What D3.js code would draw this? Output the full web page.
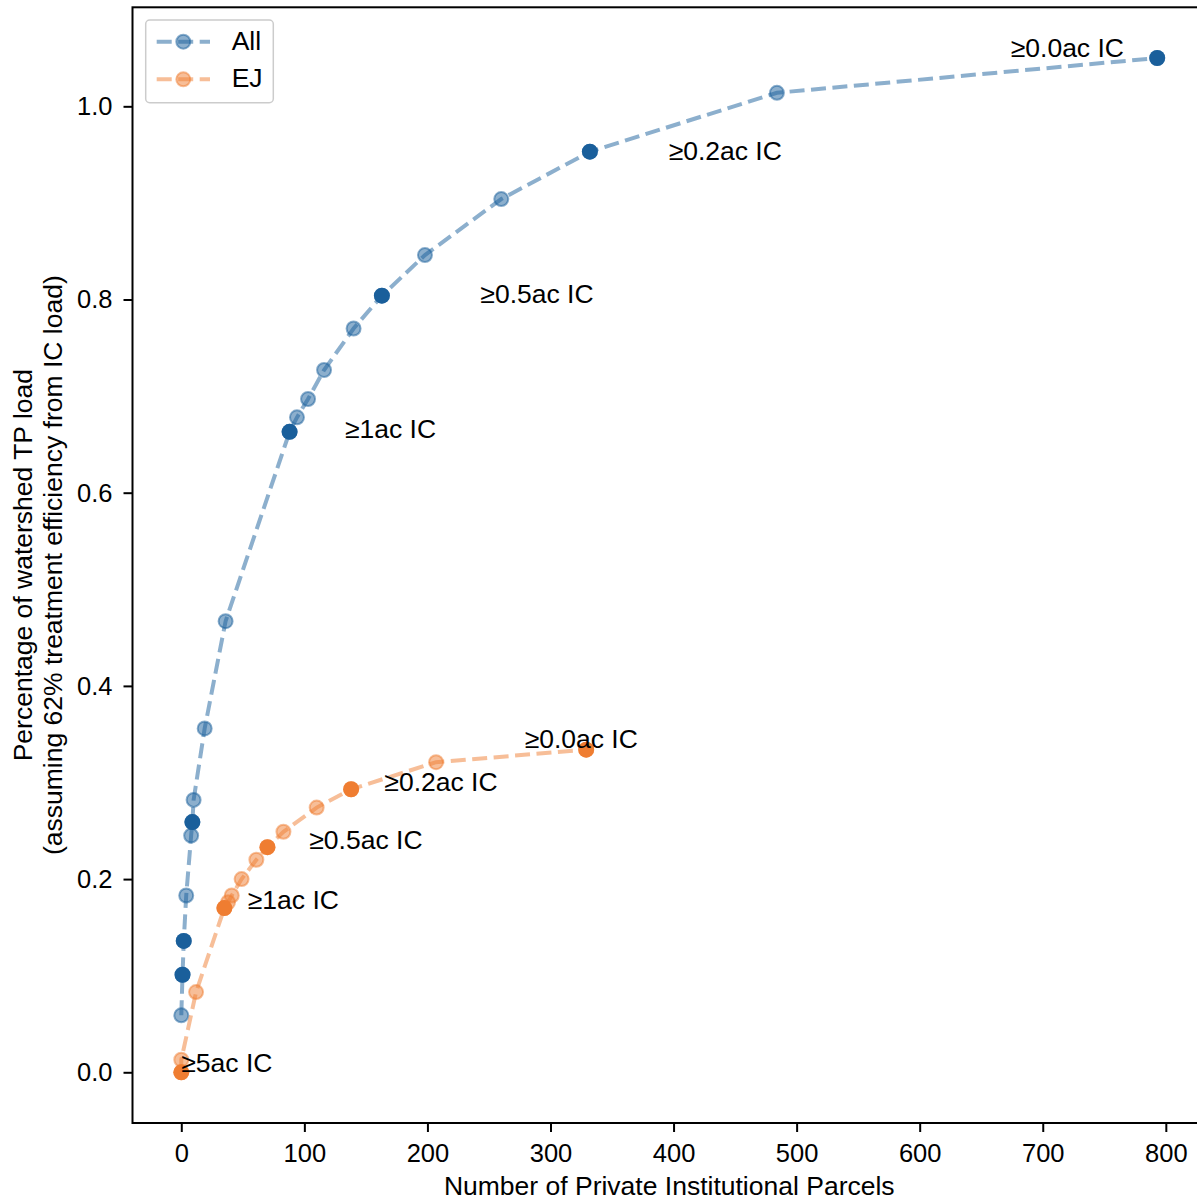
<!DOCTYPE html>
<html>
<head>
<meta charset="utf-8">
<script src="https://cdn.jsdelivr.net/npm/d3@7"></script>
<style>
  html, body { margin: 0; padding: 0; background: #fff; }
  svg text { font-family: "Liberation Sans", Arial, sans-serif; fill: #000; }
</style>
</head>
<body>
<svg id="chart" width="1197" height="1203"></svg>
<script>
// Cumulative share of watershed TP load treated vs. number of parcels (all parcels)
const allParcels = [0, 1, 2, 4, 8, 9, 10, 19, 36, 88, 94, 103, 116, 140, 163, 198, 260, 332, 484, 793];
const allLoad = [0.059, 0.101, 0.136, 0.183, 0.245, 0.259, 0.282, 0.356, 0.467, 0.663, 0.678, 0.697, 0.727, 0.770, 0.804, 0.846, 0.904, 0.953, 1.014, 1.050];
// 1 = parcel-size threshold point (drawn solid)
const allThreshold = [0, 1, 1, 0, 0, 1, 0, 0, 0, 1, 0, 0, 0, 0, 1, 0, 0, 1, 0, 1];

// Same curve restricted to EJ parcels
const ejParcels = [0, 0, 12, 35, 38, 41, 49, 61, 70, 83, 110, 138, 207, 329];
const ejLoad = [0.000, 0.013, 0.083, 0.170, 0.176, 0.183, 0.200, 0.220, 0.233, 0.249, 0.274, 0.293, 0.321, 0.334];
const ejThreshold = [1, 0, 0, 1, 0, 0, 0, 0, 1, 0, 0, 1, 0, 1];

// Threshold annotations, in data coordinates
const allLabelText = ["≥1ac IC", "≥0.5ac IC", "≥0.2ac IC", "≥0.0ac IC"];
const allLabelX = [133, 243, 396, 674];
const allLabelY = [0.657, 0.796, 0.944, 1.051];
const ejLabelText = ["≥5ac IC", "≥1ac IC", "≥0.5ac IC", "≥0.2ac IC", "≥0.0ac IC"];
const ejLabelX = [0, 54, 104, 165, 279];
const ejLabelY = [0, 0.169, 0.231, 0.291, 0.336];

const xTicks = [0, 100, 200, 300, 400, 500, 600, 700, 800];
const yTicks = [0.0, 0.2, 0.4, 0.6, 0.8, 1.0];

const seriesNames = ["All", "EJ"];
const seriesColors = ["#1a5f9b", "#ef7d31"];

const svg = d3.select("#chart");
const plot = { left: 132.5, right: 1206, top: 7.3, bottom: 1123 };
const fontSize = 26.5;
const tickFontSize = 25.5;

// matplotlib-style 5% padding around the data extent
const xMax = d3.max(allParcels.concat(ejParcels));
const yMax = d3.max(allLoad.concat(ejLoad));
const x = d3.scaleLinear().domain([-0.05 * xMax, xMax * 1.05]).range([plot.left, plot.right]);
const y = d3.scaleLinear().domain([-0.05 * yMax, yMax * 1.05]).range([plot.bottom, plot.top]);

svg.append("defs").append("clipPath").attr("id", "plotClip")
  .append("rect")
  .attr("x", plot.left).attr("y", plot.top)
  .attr("width", plot.right - plot.left).attr("height", plot.bottom - plot.top);

const series = [
  { name: seriesNames[0], xs: allParcels, ys: allLoad, key: allThreshold, color: seriesColors[0] },
  { name: seriesNames[1], xs: ejParcels, ys: ejLoad, key: ejThreshold, color: seriesColors[1] }
];

const body = svg.append("g").attr("clip-path", "url(#plotClip)");
const line = d3.line().x(d => x(d[0])).y(d => y(d[1]));

// Dashed semi-transparent curves with their markers
series.forEach(s => {
  const pts = s.xs.map((v, i) => [v, s.ys[i]]);
  const g = body.append("g");
  g.append("path")
    .attr("d", line(pts))
    .attr("fill", "none")
    .attr("stroke", s.color)
    .attr("stroke-opacity", 0.5)
    .attr("stroke-width", 4)
    .attr("stroke-dasharray", "15,6.5");
  g.selectAll("circle.m").data(pts).enter().append("circle")
    .attr("class", "m")
    .attr("cx", d => x(d[0])).attr("cy", d => y(d[1]))
    .attr("r", 7)
    .attr("fill", s.color).attr("fill-opacity", 0.5)
    .attr("stroke", s.color).attr("stroke-opacity", 0.5).attr("stroke-width", 2);
});

// Solid markers at the parcel-size thresholds
series.forEach(s => {
  const pts = s.xs.map((v, i) => [v, s.ys[i], s.key[i]]).filter(d => d[2] === 1);
  body.append("g").selectAll("circle").data(pts).enter().append("circle")
    .attr("cx", d => x(d[0])).attr("cy", d => y(d[1]))
    .attr("r", 8)
    .attr("fill", s.color);
});

// Threshold labels
const labels = allLabelText.map((t, i) => [t, allLabelX[i], allLabelY[i]])
  .concat(ejLabelText.map((t, i) => [t, ejLabelX[i], ejLabelY[i]]));
svg.append("g").selectAll("text").data(labels).enter().append("text")
  .attr("x", d => x(d[1])).attr("y", d => y(d[2]))
  .attr("font-size", fontSize)
  .text(d => d[0]);

// Axes
const xAxis = svg.append("g")
  .attr("transform", `translate(0,${plot.bottom})`)
  .call(d3.axisBottom(x).tickValues(xTicks).tickFormat(d3.format("d")).tickSize(9).tickSizeOuter(0));
xAxis.select(".domain").remove();
xAxis.selectAll(".tick line").attr("stroke", "#000").attr("stroke-width", 2);
xAxis.selectAll(".tick text")
  .attr("y", 38.7).attr("dy", 0)
  .attr("font-size", tickFontSize).attr("fill", "#000")
  .style("font-family", "'Liberation Sans', Arial, sans-serif");

const yAxis = svg.append("g")
  .attr("transform", `translate(${plot.left},0)`)
  .call(d3.axisLeft(y).tickValues(yTicks).tickFormat(d3.format(".1f")).tickSize(9).tickPadding(11).tickSizeOuter(0));
yAxis.select(".domain").remove();
yAxis.selectAll(".tick line").attr("stroke", "#000").attr("stroke-width", 2);
yAxis.selectAll(".tick text")
  .attr("dy", "0.33em")
  .attr("font-size", tickFontSize).attr("fill", "#000")
  .style("font-family", "'Liberation Sans', Arial, sans-serif");

// Frame
svg.append("rect")
  .attr("x", plot.left).attr("y", plot.top)
  .attr("width", plot.right - plot.left).attr("height", plot.bottom - plot.top)
  .attr("fill", "none").attr("stroke", "#000").attr("stroke-width", 2);

// Axis titles
svg.append("text")
  .attr("x", (plot.left + plot.right) / 2).attr("y", 1195)
  .attr("text-anchor", "middle").attr("font-size", fontSize)
  .text("Number of Private Institutional Parcels");

const yTitle = svg.append("g")
  .attr("transform", `translate(0,${(plot.top + plot.bottom) / 2}) rotate(-90)`);
yTitle.append("text").attr("x", 0).attr("y", 32)
  .attr("text-anchor", "middle").attr("font-size", fontSize)
  .text("Percentage of watershed TP load");
yTitle.append("text").attr("x", 0).attr("y", 62)
  .attr("text-anchor", "middle").attr("font-size", fontSize)
  .text("(assuming 62% treatment efficiency from IC load)");

// Legend
const legend = svg.append("g");
legend.append("rect")
  .attr("x", 145.7).attr("y", 20).attr("width", 127.6).attr("height", 82.7)
  .attr("rx", 4).attr("fill", "#fff").attr("fill-opacity", 0.8)
  .attr("stroke", "#cccccc").attr("stroke-width", 1.5);
series.forEach((s, i) => {
  const cy = 41.7 + i * 37.6;
  legend.append("line")
    .attr("x1", 156.7).attr("x2", 210).attr("y1", cy).attr("y2", cy)
    .attr("stroke", s.color).attr("stroke-opacity", 0.5)
    .attr("stroke-width", 4).attr("stroke-dasharray", "15,6.5");
  legend.append("circle")
    .attr("cx", 183.3).attr("cy", cy).attr("r", 7)
    .attr("fill", s.color).attr("fill-opacity", 0.5)
    .attr("stroke", s.color).attr("stroke-opacity", 0.5).attr("stroke-width", 2);
  legend.append("text")
    .attr("x", 231.7).attr("y", cy + 8)
    .attr("font-size", fontSize)
    .text(s.name);
});
</script>
</body>
</html>
